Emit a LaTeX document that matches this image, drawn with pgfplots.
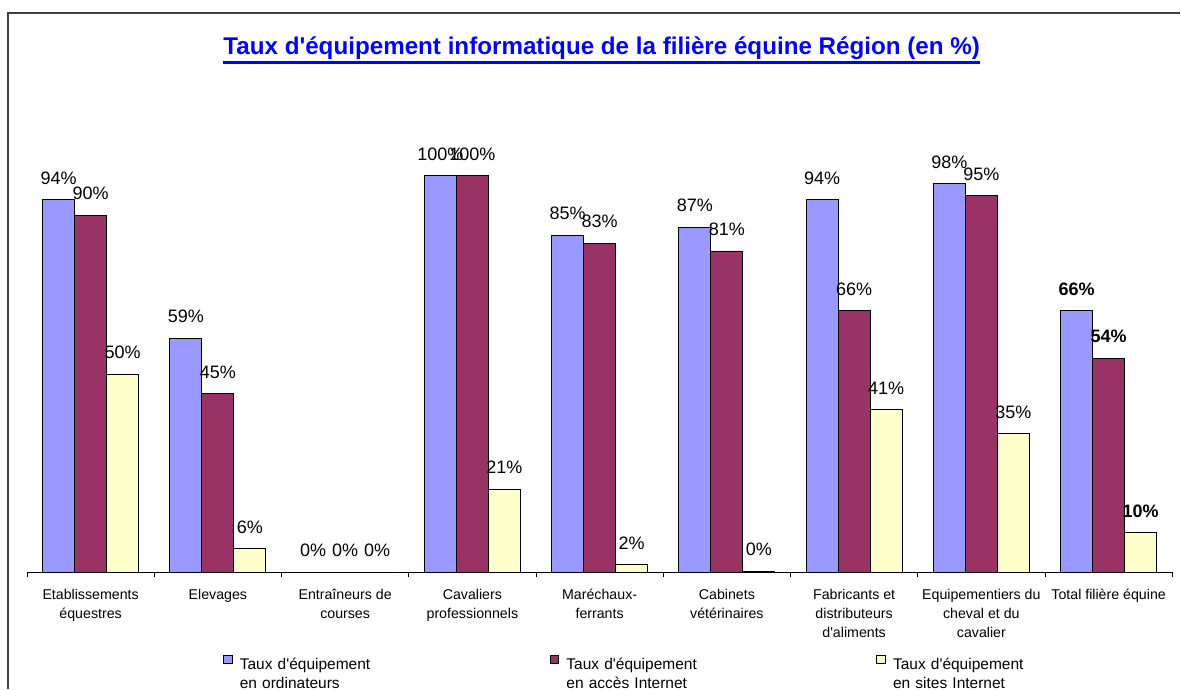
\documentclass[border=0pt]{standalone}
\usepackage{pgfplots}
\pgfplotsset{compat=1.18}
\usepackage{fontspec}
\setmainfont{Liberation Sans}

\definecolor{ordi}{HTML}{9999FF}
\definecolor{acces}{HTML}{993366}
\definecolor{sites}{HTML}{FFFFCC}
\newcommand{\ap}{\textquotesingle}

\begin{document}
\begin{tikzpicture}[x=1pt,y=1pt]
\path (0,0) rectangle (1181,689);

% cadre du graphique (seuls le haut et la gauche sont visibles)
\draw[black!75, line width=1.3pt] (8,0) -- (8,676) -- (1181,676);

% titre souligne
\node[anchor=base, inner sep=0pt, text=blue, font=\fontsize{24.2}{28}\selectfont\bfseries] (titre) at (602,634)
  {Taux d\ap équipement informatique de la filière équine Région (en \%)};
\draw[blue, line width=2.5pt] ([yshift=-7.3pt]titre.base west) -- ([yshift=-7.3pt]titre.base east);

\begin{axis}[
  at={(90.67pt,116.3pt)}, anchor=origin,
  scale only axis, width=1146pt, height=397pt,
  ybar=0pt, bar width=32pt,
  legend image code/.code={\draw[#1] (0pt,1pt) rectangle (8.5pt,9.5pt);},
  xmin=-0.5, xmax=8.5, ymin=0, ymax=100,
  clip=false,
  axis x line*=bottom, axis y line=none,
  x axis line style={black, line width=0.8pt},
  ytick=\empty,
  xtick={-0.5,0.5,...,8.5}, xticklabels={},
  major tick length=5pt, tick align=outside,
  xtick style={black, line width=0.8pt},
  extra x ticks={0,1,2,3,4,5,6,7,8},
  extra x tick labels={{Etablissements\\équestres},{Elevages\\\mbox{}},{Entraîneurs de\\courses},{Cavaliers\\professionnels},{Maréchaux-\\ferrants},{Cabinets\\vétérinaires},{Fabricants et\\distributeurs\\d\ap aliments},{Equipementiers du\\cheval et du\\cavalier},{Total filière équine\\\mbox{}}},
  extra x tick style={tick style={draw=none}},
  xticklabel style={font=\fontsize{14.2}{19}\selectfont, align=center, inner sep=0pt, anchor=north, yshift=-11.5pt},
  point meta=explicit symbolic,
  nodes near coords,
  every node near coord/.append style={font=\fontsize{18}{20}\selectfont, anchor=south, inner sep=0pt, text depth=0pt, yshift=15pt},
  legend columns=3,
  legend style={at={(0.171,-0.207)}, anchor=north west, draw=none, fill=none, inner sep=0pt,
    /tikz/every odd column/.append style={column sep=7.5pt},
    /tikz/every even column/.append style={column sep=174pt},
    nodes={inner sep=0pt, text width=136pt, align=left, font=\fontsize{15.5}{19}\selectfont}},
]
\addplot[fill=ordi, draw=black, line width=0.8pt] coordinates {
  (0,94) [94\%] (1,59) [59\%] (2,0) [0\%] (3,100) [100\%] (4,85) [85\%]
  (5,87) [87\%] (6,94) [94\%] (7,98) [98\%] (8,66) [\textbf{66\%}]};
\addplot[fill=acces, draw=black, line width=0.8pt] coordinates {
  (0,90) [90\%] (1,45) [45\%] (2,0) [0\%] (3,100) [100\%] (4,83) [83\%]
  (5,81) [81\%] (6,66) [66\%] (7,95) [95\%] (8,54) [\textbf{54\%}]};
\addplot[fill=sites, draw=black, line width=0.8pt] coordinates {
  (0,50) [50\%] (1,6) [6\%] (2,0) [0\%] (3,21) [21\%] (4,2) [2\%]
  (5,0.3) [0\%] (6,41) [41\%] (7,35) [35\%] (8,10) [\textbf{10\%}]};
\legend{{Taux d\ap équipement\\en ordinateurs},{Taux d\ap équipement\\en accès Internet},{Taux d\ap équipement\\en sites Internet}}
\end{axis}
\end{tikzpicture}
\end{document}
